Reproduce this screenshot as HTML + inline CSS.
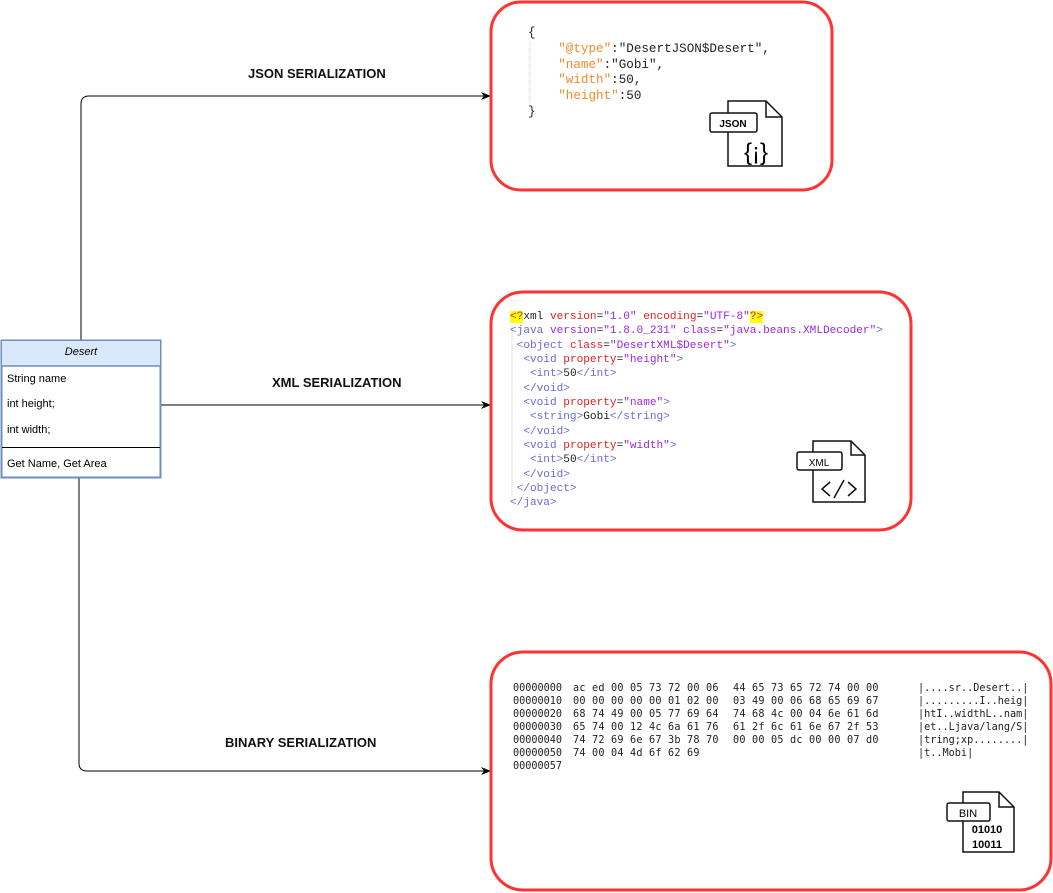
<!DOCTYPE html>
<html><head><meta charset="utf-8"><style>
body{margin:0;width:1053px;height:893px;background:#fff;overflow:hidden;position:relative;font-family:"Liberation Sans",sans-serif}
.a{position:absolute;white-space:pre}
.m{font-family:"Liberation Mono",monospace}
.lbl{font-weight:bold;font-size:13px;color:#111}
.o{color:#f08a2c}.k{color:#222}.t{color:#6a6ad8}.r{color:#e02020}.p{color:#9a2ad8}
.hx{font-family:"DejaVu Sans Mono","Liberation Mono",monospace;font-size:10.2px;line-height:13px;color:#222}
</style></head><body>
<svg width="1053" height="893" style="position:absolute;left:0;top:0">
<defs><marker id="ar" markerWidth="10" markerHeight="8" refX="9" refY="4" orient="auto" markerUnits="userSpaceOnUse"><path d="M0,0 L10,4 L0,8 L3,4z" fill="#000"/></marker></defs>
<path d="M81,340 V104 Q81,96 89,96 H490" fill="none" stroke="#000" stroke-width="1" marker-end="url(#ar)"/>
<path d="M161,405 H490" fill="none" stroke="#000" stroke-width="1" marker-end="url(#ar)"/>
<path d="M79,478 V763 Q79,771 87,771 H490" fill="none" stroke="#000" stroke-width="1" marker-end="url(#ar)"/>
<rect x="491" y="2" width="341" height="188" rx="30" fill="#fff" stroke="#f33" stroke-width="3"/>
<rect x="491" y="292" width="420" height="238" rx="32" fill="#fff" stroke="#f33" stroke-width="3"/>
<rect x="491" y="652" width="560" height="238" rx="32" fill="#fff" stroke="#f33" stroke-width="3"/>
<rect x="1.5" y="340.5" width="159" height="137" fill="#fff" stroke="#6c8ebf" stroke-width="2"/>
<rect x="2" y="341" width="158" height="25" fill="#dae8fc"/>
<line x1="1" y1="366" x2="161" y2="366" stroke="#6c8ebf" stroke-width="1.5"/>
<line x1="2" y1="447.5" x2="160" y2="447.5" stroke="#000" stroke-width="1"/>
<line x1="530" y1="42" x2="530" y2="104" stroke="#ccc" stroke-dasharray="1,1"/>
<line x1="512" y1="324" x2="512" y2="496" stroke="#ccc" stroke-dasharray="1,1"/>
<g fill="#fff" stroke="#111" stroke-width="1.5">
<path d="M728,101 H766 L782,117 V166 H728 Z"/><path d="M766,101 V117 H782" fill="none"/>
<rect x="710" y="113" width="47" height="19" rx="2"/>
</g>
<text x="733" y="127" font-size="10" font-weight="bold" text-anchor="middle" font-family="Liberation Sans">JSON</text>
<text x="756" y="160" font-size="24" text-anchor="middle" font-family="Liberation Sans">{¡}</text>
<g fill="#fff" stroke="#111" stroke-width="1.5">
<path d="M813,441 H851 L865,455 V502 H813 Z"/><path d="M851,441 V455 H865" fill="none"/>
<rect x="797" y="452" width="45" height="18" rx="2"/>
<path d="M830,482 L822,489 L830,496 M848,482 L856,489 L848,496 M844,480 L834,498" fill="none"/>
</g>
<text x="819" y="466" font-size="10" text-anchor="middle" font-family="Liberation Sans">XML</text>
<g fill="#fff" stroke="#111" stroke-width="1.5">
<path d="M963,792 H999 L1014,807 V852 H963 Z"/><path d="M999,792 V807 H1014" fill="none"/>
<rect x="947" y="803" width="43" height="18" rx="2"/>
</g>
<text x="968" y="817" font-size="11" text-anchor="middle" font-family="Liberation Sans">BIN</text>
<text x="987" y="833" font-size="11" font-weight="bold" text-anchor="middle" font-family="Liberation Sans">01010</text>
<text x="987" y="848" font-size="11" font-weight="bold" text-anchor="middle" font-family="Liberation Sans">10011</text>
</svg>

<div class="a lbl" style="left:248px;top:66px">JSON SERIALIZATION</div>
<div class="a lbl" style="left:272px;top:375px">XML SERIALIZATION</div>
<div class="a lbl" style="left:225px;top:735px">BINARY SERIALIZATION</div>

<div class="a" style="left:2px;top:346px;width:158px;text-align:center;font-style:italic;font-size:11px">Desert</div>
<div class="a" style="left:7px;top:373px;font-size:11px">String name</div>
<div class="a" style="left:7px;top:398px;font-size:11px">int height;</div>
<div class="a" style="left:7px;top:424px;font-size:11px">int width;</div>
<div class="a" style="left:7px;top:458px;font-size:11px">Get Name, Get Area</div>

<div class="a m" style="left:528px;top:26px;font-size:12.6px;line-height:15.8px;color:#222">{
    <span class="o">"@type"</span>:"DesertJSON$Desert",
    <span class="o">"name"</span>:"Gobi",
    <span class="o">"width"</span>:50,
    <span class="o">"height"</span>:50
}</div>

<div class="a m" style="left:510px;top:310px;font-size:11.1px;line-height:14.35px;color:#222"><span style="background:#ff0" class="r">&lt;?</span><span class="k">xml</span> <span class="r">version</span>=<span class="p">"1.0"</span> <span class="r">encoding</span>=<span class="p">"UTF-8"</span><span style="background:#ff0" class="r">?&gt;</span>
<span class="t">&lt;java</span> <span class="p">version</span>=<span class="p">"1.8.0_231"</span> <span class="p">class</span>=<span class="p">"java.beans.XMLDecoder"</span><span class="t">&gt;</span>
 <span class="t">&lt;object</span> <span class="r">class</span>=<span class="p">"DesertXML$Desert"</span><span class="t">&gt;</span>
  <span class="t">&lt;void</span> <span class="r">property</span>=<span class="p">"height"</span><span class="t">&gt;</span>
   <span class="t">&lt;int&gt;</span>50<span class="t">&lt;/int&gt;</span>
  <span class="t">&lt;/void&gt;</span>
  <span class="t">&lt;void</span> <span class="r">property</span>=<span class="p">"name"</span><span class="t">&gt;</span>
   <span class="t">&lt;string&gt;</span>Gobi<span class="t">&lt;/string&gt;</span>
  <span class="t">&lt;/void&gt;</span>
  <span class="t">&lt;void</span> <span class="r">property</span>=<span class="p">"width"</span><span class="t">&gt;</span>
   <span class="t">&lt;int&gt;</span>50<span class="t">&lt;/int&gt;</span>
  <span class="t">&lt;/void&gt;</span>
 <span class="t">&lt;/object&gt;</span>
<span class="t">&lt;/java&gt;</span></div>

<div class="a hx" style="left:513px;top:682px">00000000
00000010
00000020
00000030
00000040
00000050
00000057</div>
<div class="a hx" style="left:573px;top:682px;letter-spacing:0.2px">ac ed 00 05 73 72 00 06
00 00 00 00 00 01 02 00
68 74 49 00 05 77 69 64
65 74 00 12 4c 6a 61 76
74 72 69 6e 67 3b 78 70
74 00 04 4d 6f 62 69</div>
<div class="a hx" style="left:733px;top:682px;letter-spacing:0.2px">44 65 73 65 72 74 00 00
03 49 00 06 68 65 69 67
74 68 4c 00 04 6e 61 6d
61 2f 6c 61 6e 67 2f 53
00 00 05 dc 00 00 07 d0</div>
<div class="a hx" style="left:918px;top:682px">|....sr..Desert..|
|.........I..heig|
|htI..widthL..nam|
|et..Ljava/lang/S|
|tring;xp........|
|t..Mobi|</div>
</body></html>
